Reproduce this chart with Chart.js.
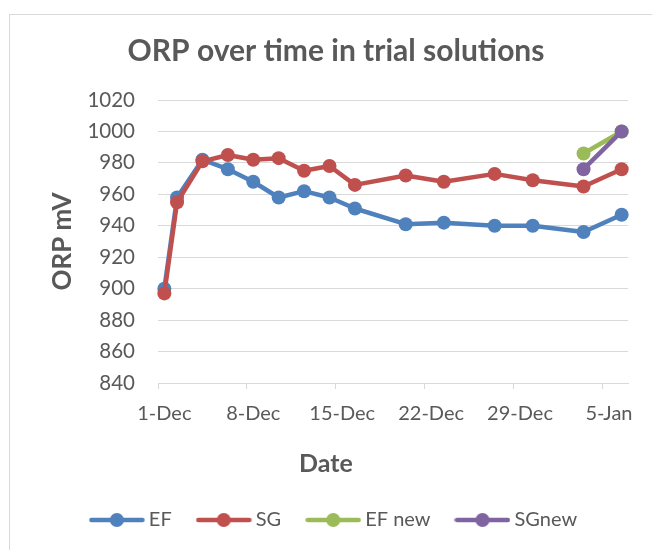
<!DOCTYPE html>
<html>
<head>
<meta charset="utf-8">
<script src="https://cdn.jsdelivr.net/npm/chart.js@4.4.0/dist/chart.umd.min.js"></script>
<style>
html,body{margin:0;padding:0;width:652px;height:550px;overflow:hidden;background:#ffffff;}
#frame{position:absolute;left:9px;top:14px;width:700px;height:600px;border-left:1px solid #D9D9D9;border-top:1px solid #D9D9D9;}
#wrap{position:absolute;left:10px;top:15px;width:652px;height:535px;}
</style>
</head>
<body>
<div id="frame"></div>
<div id="wrap"><canvas id="c" width="652" height="535"></canvas></div>
<script>
// ---- data ----
const chartTitle = 'ORP over time in trial solutions';
const yAxisTitle = 'ORP mV';
const xAxisTitle = 'Date';
const seriesNames = ['EF', 'SG', 'EF new', 'SGnew'];
const seriesColors = ['#4F81BD', '#C0504D', '#9BBB59', '#8064A2'];

const dates = ['2013-12-01','2013-12-02','2013-12-04','2013-12-06','2013-12-08','2013-12-10','2013-12-12','2013-12-14','2013-12-16','2013-12-20','2013-12-23','2013-12-27','2013-12-30','2014-01-03','2014-01-06'];
const efValues = [900, 958, 982, 976, 968, 958, 962, 958, 951, 941, 942, 940, 940, 936, 947];
const sgValues = [897, 955, 981, 985, 982, 983, 975, 978, 966, 972, 968, 973, 969, 965, 976];

const newDates = ['2014-01-03','2014-01-06'];
const efNewValues = [986, 1000];
const sgNewValues = [976, 1000];

const axisStart = '2013-12-01';
const axisEnd = '2014-01-06';
const tickDates = ['2013-12-01','2013-12-08','2013-12-15','2013-12-22','2013-12-29','2014-01-05'];
const tickLabels = ['1-Dec','8-Dec','15-Dec','22-Dec','29-Dec','5-Jan'];

const yMin = 840, yMax = 1020, yStep = 20;

// ---- helpers ----
const dayIndex = d => (Date.parse(d) - Date.parse(axisStart)) / 86400000;
const toPoints = (ds, vs) => ds.map((d, i) => ({ x: dayIndex(d), y: vs[i] }));

const TEXT = '#595959';
const GRID = '#D9D9D9';
Chart.defaults.font.family = 'Lato, "Open Sans", sans-serif';
Chart.defaults.color = TEXT;

function legendIcon(color) {
  const c = document.createElement('canvas');
  c.width = 56; c.height = 16;
  const g = c.getContext('2d');
  g.strokeStyle = color; g.lineWidth = 4.5; g.lineCap = 'round';
  g.beginPath(); g.moveTo(2.5, 8); g.lineTo(53.5, 8); g.stroke();
  g.fillStyle = color;
  g.beginPath(); g.arc(28, 8, 7, 0, Math.PI * 2); g.fill();
  return c;
}
const icons = seriesColors.map(legendIcon);

function makeDataset(i, points) {
  return {
    label: seriesNames[i],
    data: points,
    borderColor: seriesColors[i],
    backgroundColor: seriesColors[i],
    borderWidth: 4.5,
    pointRadius: 7,
    pointHoverRadius: 7,
    pointBorderWidth: 0,
    pointBackgroundColor: seriesColors[i],
    borderJoinStyle: 'round',
    borderCapStyle: 'round',
    tension: 0,
    clip: false,
    order: 4 - i
  };
}

const xTitlePlugin = {
  id: 'xTitle',
  afterDraw(chart) {
    const ctx = chart.ctx;
    const xs = chart.scales.x;
    ctx.save();
    ctx.font = 'bold 25px Lato, "Open Sans", sans-serif';
    ctx.fillStyle = TEXT;
    ctx.textAlign = 'center';
    ctx.textBaseline = 'middle';
    ctx.fillText(xAxisTitle, (xs.left + xs.right) / 2 - 67, xs.top + 81);
    ctx.restore();
  }
};

new Chart(document.getElementById('c'), {
  type: 'line',
  data: {
    datasets: [
      makeDataset(0, toPoints(dates, efValues)),
      makeDataset(1, toPoints(dates, sgValues)),
      makeDataset(2, toPoints(newDates, efNewValues)),
      makeDataset(3, toPoints(newDates, sgNewValues))
    ]
  },
  options: {
    responsive: false,
    animation: false,
    layout: { autoPadding: false, padding: { left: 34, right: 34, top: 0, bottom: 10 } },
    plugins: {
      title: {
        display: true,
        text: chartTitle,
        color: TEXT,
        font: { size: 30, weight: 'bold' },
        padding: { top: 18, bottom: 31 }
      },
      legend: {
        position: 'bottom',
        labels: {
          usePointStyle: true,
          pointStyleWidth: 44,
          padding: 30,
          color: TEXT,
          font: { size: 20 },
          sort: (a, b) => a.datasetIndex - b.datasetIndex,
          generateLabels(chart) {
            const items = Chart.defaults.plugins.legend.labels.generateLabels(chart);
            items.forEach(it => { it.pointStyle = icons[it.datasetIndex]; });
            return items;
          }
        }
      },
      tooltip: { enabled: false }
    },
    scales: {
      x: {
        type: 'linear',
        min: dayIndex(axisStart) - 0.5,
        max: dayIndex(axisEnd) + 0.5,
        afterBuildTicks(scale) {
          scale.ticks = tickDates.map(d => ({ value: dayIndex(d) - 0.5 }));
        },
        afterFit(scale) { scale.height = 97; scale.paddingLeft = 0; scale.paddingRight = 0; },
        grid: { drawOnChartArea: false, drawTicks: true, tickLength: 6, color: GRID, lineWidth: 1 },
        border: { display: true, color: GRID, width: 1 },
        ticks: {
          autoSkip: false,
          maxRotation: 0,
          padding: 13,
          labelOffset: 6.35,
          color: TEXT,
          font: { size: 20 },
          callback: (v, i) => tickLabels[i]
        }
      },
      y: {
        min: yMin,
        max: yMax,
        afterFit(scale) { scale.width = 114; scale.paddingTop = 0; scale.paddingBottom = 0; },
        grid: { color: GRID, lineWidth: 1, drawTicks: false },
        border: { display: false },
        ticks: { stepSize: yStep, padding: 23, color: TEXT, font: { size: 20.5 }, callback: v => String(v) },
        title: {
          display: true,
          text: yAxisTitle,
          color: TEXT,
          font: { size: 26, weight: 'bold' },
          padding: { top: 3, bottom: 0 }
        }
      }
    }
  },
  plugins: [xTitlePlugin]
});
</script>
</body>
</html>
